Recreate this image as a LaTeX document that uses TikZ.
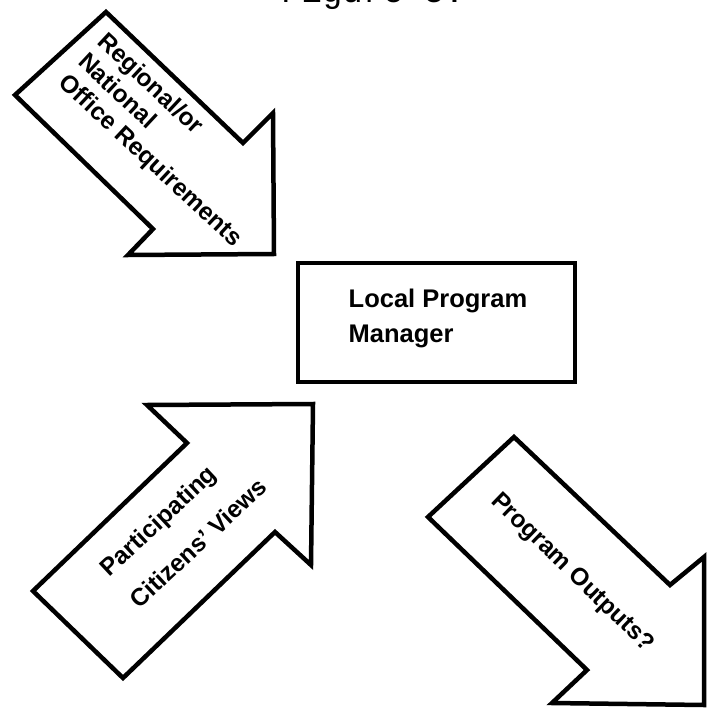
\documentclass[tikz,border=0pt]{standalone}
\usepackage{fontspec}
\setmainfont{Liberation Sans}
\newfontfamily\figmono{Liberation Mono}
\begin{document}
\begin{tikzpicture}[x=1pt,y=-1pt,
  arrowshape/.style={draw=black, line width=4.5pt, line join=miter, fill=white},
  boxshape/.style={draw=black, line width=4.5pt, fill=white, inner sep=0pt},
  lbl/.style={font=\fontsize{24.5}{28}\selectfont\bfseries, inner sep=0pt, align=left},
  mgrlbl/.style={font=\fontsize{25.5}{35}\selectfont\bfseries, inner sep=0pt, align=left}]
\useasboundingbox (0,0) rectangle (711,719);
\clip (0,0) rectangle (711,719);
\fill[white] (0,0) rectangle (711,719);
\node[overlay, font=\figmono\fontsize{34}{34}\selectfont, anchor=base west, inner sep=0pt] (fig) at (281,3) {Figure 5.};
% arrow 1: regional / national requirements
\draw[arrowshape] (106,12) -- (15,95) -- (153,229) -- (128,255) -- (274,254) -- (273,113) -- (243,143) -- cycle;
\node[lbl, rotate=-43] (req) at (169,141) {Regional/or\\National\\Office Requirements};
% manager box
\node[boxshape, minimum width=277pt, minimum height=119pt] (box) at (436.5,322.5) {};
\node[mgrlbl] (mgr) at (438,318) {Local Program\\Manager};
% arrow 3: citizens views
\draw[arrowshape] (147,405) -- (313,404) -- (311,565) -- (275,532) -- (123,678) -- (33,591) -- (187,443) -- cycle;
\node[lbl, rotate=43, font=\fontsize{24.5}{44}\selectfont\bfseries] (cit) at (183,527) {Participating\\Citizens' Views};
% arrow 4: program outputs
\draw[arrowshape] (514,437) -- (428,517) -- (587,670) -- (552,703) -- (704,705) -- (704,557) -- (670,585) -- cycle;
\node[lbl, rotate=-44] (out) at (572,573) {Program Outputs?};
\end{tikzpicture}
\end{document}
